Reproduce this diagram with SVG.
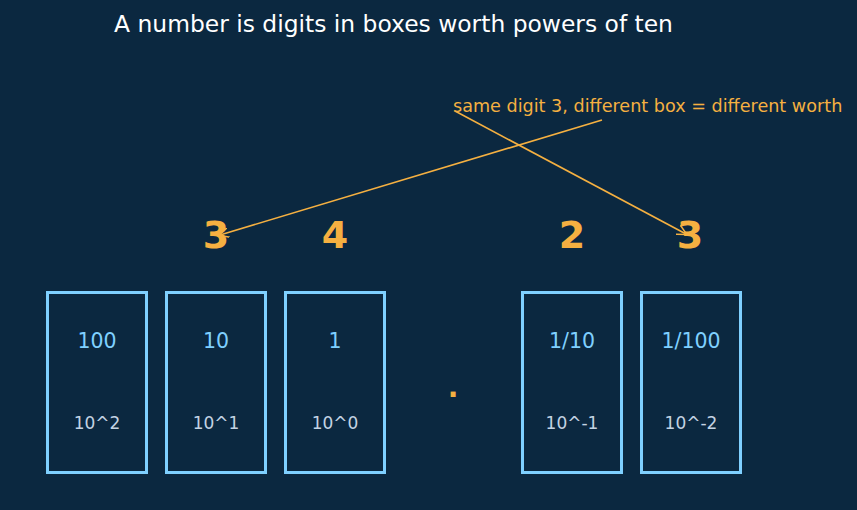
<svg xmlns="http://www.w3.org/2000/svg" width="857" height="510" viewBox="0 0 857 510">
<style>
.box{fill:#0b2840;stroke:#7fd0ff;stroke-width:3}
.val{font-family:"DejaVu Sans",sans-serif;font-size:20.5px;fill:#7fd0ff;text-anchor:middle}
.exp{font-family:"DejaVu Sans",sans-serif;font-size:17px;fill:#c3d3e3;text-anchor:middle}
.dig{font-family:"DejaVu Sans",sans-serif;font-size:38px;font-weight:bold;fill:#f5b041;text-anchor:middle}
.conn{stroke:#f5b041;stroke-width:1.6;fill:none}
</style>
<defs>
<marker id="ah" viewBox="0 0 10 10" refX="9" refY="5" markerWidth="10" markerHeight="10" markerUnits="userSpaceOnUse" orient="auto">
<path d="M0,0 L10,5 L0,10" fill="none" stroke="#f5b041" stroke-width="1.5"/>
</marker>
</defs>
<rect width="857" height="510" fill="#0b2840"/>
<text x="393.5" y="32" font-family="DejaVu Sans, sans-serif" font-size="23.4" fill="#ffffff" text-anchor="middle">A number is digits in boxes worth powers of ten</text>
<text id="note" x="453" y="112" font-family="DejaVu Sans, sans-serif" font-size="17.6" fill="#f5b041">same digit 3, different box = different worth</text>
<g id="hundreds"><rect class="box" x="47.5" y="292.5" width="99" height="180"/><text class="val" x="97" y="348">100</text><text class="exp" x="97" y="429">10^2</text></g>
<g id="tens"><rect class="box" x="166.5" y="292.5" width="99" height="180"/><text class="val" x="216" y="348">10</text><text class="exp" x="216" y="429">10^1</text></g>
<g id="ones"><rect class="box" x="285.5" y="292.5" width="99" height="180"/><text class="val" x="335" y="348">1</text><text class="exp" x="335" y="429">10^0</text></g>
<g id="tenths"><rect class="box" x="522.5" y="292.5" width="99" height="180"/><text class="val" x="572" y="348">1/10</text><text class="exp" x="572" y="429">10^-1</text></g>
<g id="hundredths"><rect class="box" x="641.5" y="292.5" width="99" height="180"/><text class="val" x="691" y="348">1/100</text><text class="exp" x="691" y="429">10^-2</text></g>
<g id="digits">
<text class="dig" x="216" y="248">3</text>
<text class="dig" x="335" y="248">4</text>
<text class="dig" x="572" y="248">2</text>
<text class="dig" x="690" y="248">3</text>
</g>
<g id="point"><text x="453" y="397" font-family="DejaVu Sans, sans-serif" font-size="28" font-weight="bold" fill="#f5b041" text-anchor="middle">.</text></g>
<g id="connectors">
<line class="conn" x1="602" y1="120" x2="220" y2="235" marker-end="url(#ah)"/>
<line class="conn" x1="455" y1="111" x2="686" y2="234" marker-end="url(#ah)"/>
</g>
</svg>
